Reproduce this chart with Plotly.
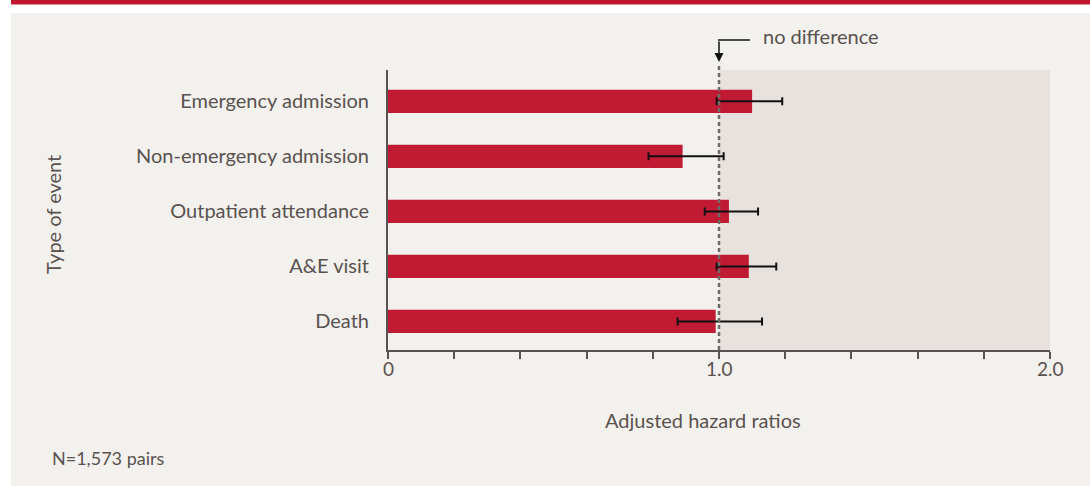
import plotly.graph_objects as go

categories = ["Death", "A&E visit", "Outpatient attendance", "Non-emergency admission", "Emergency admission"]
hazard_ratio = [0.99, 1.09, 1.03, 0.89, 1.10]
ci_low = [0.875, 0.993, 0.957, 0.787, 0.993]
ci_high = [1.13, 1.173, 1.118, 1.014, 1.191]
x_tickvals = [0, 0.2, 0.4, 0.6, 0.8, 1.0, 1.2, 1.4, 1.6, 1.8, 2.0]
x_labelvals = [0, 1.0, 2.0]
x_labeltext = ["0", "1.0", "2.0"]

W, H = 1090, 486
TXT = "#5a5250"
FONT = "Lato"

def px_x(p):
    return p / W

def px_y(p):
    return 1 - p / H

err_plus = [h - v for h, v in zip(ci_high, hazard_ratio)]
err_minus = [v - l for v, l in zip(hazard_ratio, ci_low)]

fig = go.Figure()
fig.add_trace(go.Bar(
    y=list(range(len(categories))),
    x=hazard_ratio,
    orientation="h",
    width=0.42,
    marker=dict(color="#c01b32", line=dict(width=0)),
    error_x=dict(type="data", array=err_plus, arrayminus=err_minus,
                 color="#111111", thickness=2, width=4),
    hoverinfo="skip",
))

shapes = [
    # top red band
    dict(type="rect", xref="paper", yref="paper", x0=px_x(11), x1=1, y0=px_y(4), y1=1,
         fillcolor="#c0172f", line=dict(width=0), layer="below"),
    dict(type="rect", xref="paper", yref="paper", x0=px_x(11), x1=1, y0=px_y(5), y1=px_y(4),
         fillcolor="#e0909a", line=dict(width=0), layer="below"),
    # panel background
    dict(type="rect", xref="paper", yref="paper", x0=px_x(11), x1=1, y0=0, y1=px_y(13),
         fillcolor="#f3f1ed", line=dict(width=0), layer="below"),
    # shaded region right of 1.0
    dict(type="rect", xref="x", yref="y domain", x0=1.0, x1=2.0, y0=0, y1=1,
         fillcolor="#e7e2dd", line=dict(width=0), layer="below"),
    # dashed no-difference line
    dict(type="line", xref="x", yref="paper", x0=1.0, x1=1.0, y0=px_y(350), y1=px_y(66),
         line=dict(color="#6f6b68", width=2.5, dash="4px,3px"), layer="above"),
    # connector horizontal line
    dict(type="line", xref="paper", yref="paper", x0=px_x(718), x1=px_x(750), y0=px_y(40), y1=px_y(40),
         line=dict(color="#111111", width=1.5)),
]

annotations = [
    dict(x=1.0, xref="x", y=px_y(62), yref="paper", ax=0, ay=-22, axref="pixel", ayref="pixel",
         text="", showarrow=True, arrowhead=2, arrowsize=1.2, arrowwidth=1.5, arrowcolor="#111111"),
    dict(x=px_x(761), y=px_y(36), xref="paper", yref="paper", text="no difference",
         showarrow=False, xanchor="left", yanchor="middle", font=dict(family=FONT, size=20, color=TXT)),
    dict(x=px_x(703), y=px_y(420), xref="paper", yref="paper", text="Adjusted hazard ratios",
         showarrow=False, xanchor="center", yanchor="middle", font=dict(family=FONT, size=20, color=TXT)),
    dict(x=px_x(53), y=px_y(215), xref="paper", yref="paper", text="Type of event", textangle=-90,
         showarrow=False, xanchor="center", yanchor="middle", font=dict(family=FONT, size=20, color=TXT)),
    dict(x=px_x(50), y=px_y(458), xref="paper", yref="paper", text="N=1,573 pairs",
         showarrow=False, xanchor="left", yanchor="middle", font=dict(family=FONT, size=18, color=TXT)),
]
for v, t in zip(x_labelvals, x_labeltext):
    annotations.append(dict(x=v, xref="x", y=px_y(368), yref="paper", text=t, showarrow=False,
                            xanchor="center", yanchor="middle",
                            font=dict(family=FONT, size=19, color=TXT)))

fig.update_layout(
    width=W, height=H,
    margin=dict(l=0, r=0, t=0, b=0),
    paper_bgcolor="#ffffff",
    plot_bgcolor="rgba(0,0,0,0)",
    showlegend=False,
    shapes=shapes,
    annotations=annotations,
    xaxis=dict(
        domain=[px_x(388), px_x(1050)],
        range=[0, 2.0],
        tickvals=x_tickvals, ticktext=[""] * len(x_tickvals),
        ticks="outside", ticklen=7, tickwidth=2, tickcolor="#5a5250",
        showline=True, linecolor="#5a5250", linewidth=2,
        showgrid=False, zeroline=False,
        fixedrange=True,
    ),
    yaxis=dict(
        domain=[px_y(350), px_y(70)],
        range=[-0.52, 4.57],
        tickvals=list(range(len(categories))), ticktext=categories,
        ticks="", showline=True, linecolor="#5a5250", linewidth=2,
        showgrid=False, zeroline=False,
        ticklabelstandoff=13,
        tickfont=dict(family=FONT, size=20, color=TXT),
        fixedrange=True,
    ),
)

fig.write_html("out.html", config={"displayModeBar": False},
               post_script="document.body.style.margin='0px';document.body.style.overflow='hidden';")
